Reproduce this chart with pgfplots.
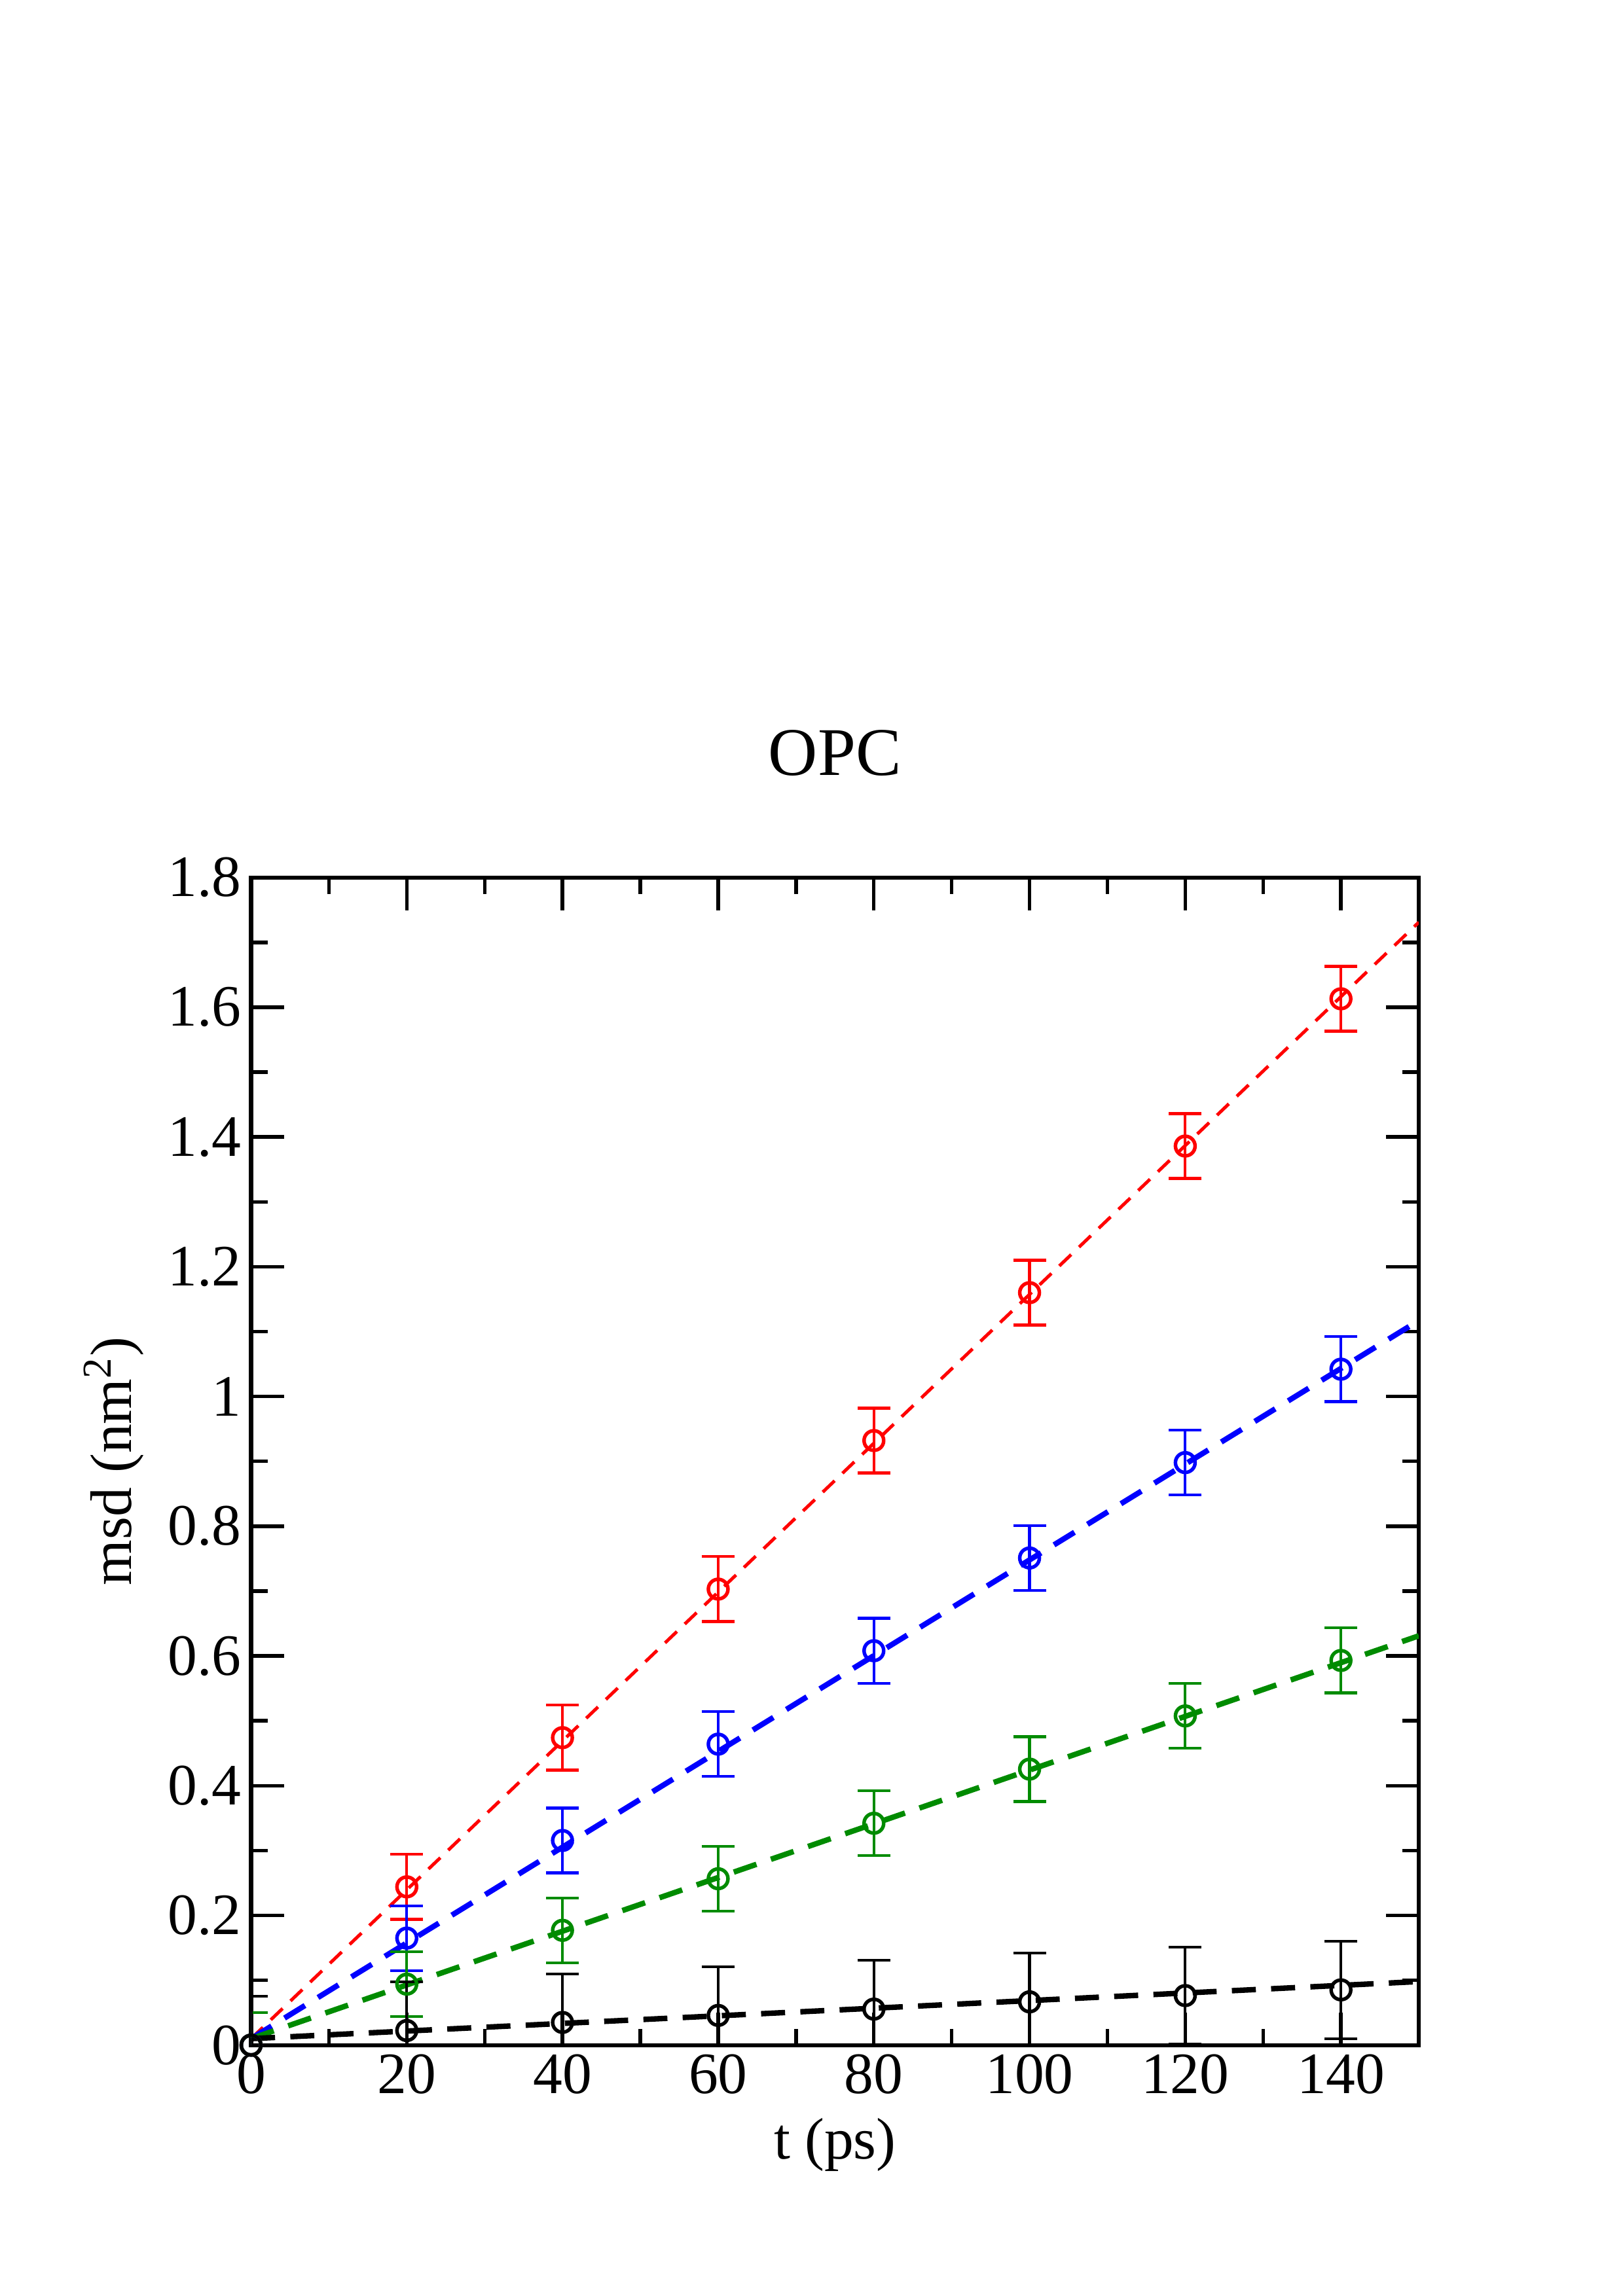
\documentclass[border=0pt]{standalone}
\usepackage{pgfplots}
\pgfplotsset{compat=1.18}
\usepackage{pgfplotstable}
\usepackage{fontspec}
\setmainfont{Liberation Serif}
\definecolor{xgreen}{RGB}{0,139,0}
\pgfplotstableread{
x y e
0 0.000 0.05
20 0.244 0.05
40 0.474 0.05
60 0.703 0.05
80 0.932 0.05
100 1.160 0.05
120 1.386 0.05
140 1.613 0.05
}\red
\pgfplotstableread{
x y e
0 0.000 0.05
20 0.165 0.05
40 0.3155 0.05
60 0.464 0.05
80 0.608 0.05
100 0.751 0.05
120 0.898 0.05
140 1.042 0.05
}\blue
\pgfplotstableread{
x y e
0 0.000 0.05
20 0.094 0.05
40 0.177 0.05
60 0.2565 0.05
80 0.342 0.05
100 0.4255 0.05
120 0.5075 0.05
140 0.593 0.05
}\green
\pgfplotstableread{
x y e
0 0.000 0.075
20 0.0225 0.075
40 0.035 0.075
60 0.0458 0.075
80 0.0555 0.075
100 0.0667 0.075
120 0.0764 0.075
140 0.0852 0.075
}\black
\begin{document}
\begin{tikzpicture}
\path[use as bounding box] (-92.05pt,-92pt) rectangle (502.95pt,750pt);
\begin{axis}[
  at={(0pt,0pt)}, anchor=south west,
  scale only axis, width=428.1pt, height=428.2pt,
  xmin=0, xmax=150, ymin=0, ymax=1.8,
  xtick={0,20,...,140}, ytick={0,0.2,...,1.8},
  yticklabels={0,0.2,0.4,0.6,0.8,1,1.2,1.4,1.6,1.8},
  minor x tick num=1, minor y tick num=1,
  tick align=inside,
  major tick length=12pt, minor tick length=6pt,
  axis line style={line width=1.5pt},
  every tick/.style={black, line width=1.3pt},
  /pgf/number format/assume math mode=true,
  tick label style={font=\fontsize{21.5}{25}\selectfont},
  label style={font=\fontsize{21.5}{25}\selectfont},
  xlabel={t (ps)},
  xlabel style={yshift=-2pt},
  ylabel={msd (nm\textsuperscript{2})},
  ylabel style={yshift=2pt},
  title={OPC},
  title style={font=\fontsize{25}{30}\selectfont, at={(axis description cs:0.5,1)}, anchor=base, yshift=31.5pt},
  error bars/error bar style={line width=1pt, solid},
  error bars/error mark options={rotate=90, mark size=6pt, line width=1pt, solid},
]
% red
\addplot[red, only marks, mark=o, mark size=3.6pt, mark options={line width=1.3pt},
  error bars/.cd, y dir=both, y explicit] table[x=x, y=y, y error=e] {\red};
\addplot[red, line width=1.2pt, dash pattern=on 6pt off 4pt] coordinates {(0,0.01) (150,1.731)};
% blue
\addplot[blue, only marks, mark=o, mark size=3.6pt, mark options={line width=1.3pt},
  error bars/.cd, y dir=both, y explicit] table[x=x, y=y, y error=e] {\blue};
\addplot[blue, line width=2pt, dash pattern=on 8.8pt off 5.6pt] coordinates {(0,0.01) (150,1.117)};
% green
\addplot[xgreen, only marks, mark=o, mark size=3.6pt, mark options={line width=1.3pt},
  error bars/.cd, y dir=both, y explicit] table[x=x, y=y, y error=e] {\green};
\addplot[xgreen, line width=2pt, dash pattern=on 8.8pt off 5.6pt] coordinates {(0,0.01) (150,0.631)};
% black
\addplot[black, only marks, mark=o, mark size=3.6pt, mark options={line width=1.3pt},
  error bars/.cd, y dir=both, y explicit] table[x=x, y=y, y error=e] {\black};
\addplot[black, line width=2pt, dash pattern=on 8.8pt off 5.6pt] coordinates {(0,0.01) (150,0.098)};
\end{axis}
\end{tikzpicture}
\end{document}
